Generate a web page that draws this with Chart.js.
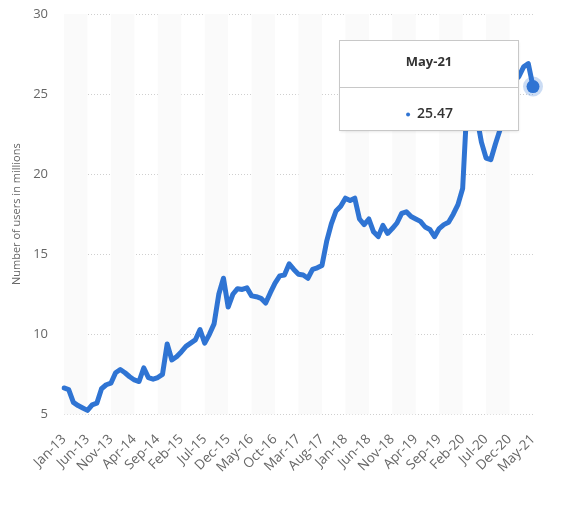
<!DOCTYPE html>
<html>
<head>
<meta charset="utf-8">
<script src="https://cdn.jsdelivr.net/npm/chart.js@4/dist/chart.umd.min.js"></script>
<style>
  body { margin: 0; background: #fff; }
  #wrap { width: 569px; height: 517px; }
</style>
</head>
<body>
<div id="wrap"><canvas id="myChart"></canvas></div>
<script>
// months Jan-13 .. May-21
const categories = [
    'Jan-13','Feb-13','Mar-13','Apr-13','May-13','Jun-13','Jul-13','Aug-13','Sep-13','Oct-13','Nov-13','Dec-13',
    'Jan-14','Feb-14','Mar-14','Apr-14','May-14','Jun-14','Jul-14','Aug-14','Sep-14','Oct-14','Nov-14','Dec-14',
    'Jan-15','Feb-15','Mar-15','Apr-15','May-15','Jun-15','Jul-15','Aug-15','Sep-15','Oct-15','Nov-15','Dec-15',
    'Jan-16','Feb-16','Mar-16','Apr-16','May-16','Jun-16','Jul-16','Aug-16','Sep-16','Oct-16','Nov-16','Dec-16',
    'Jan-17','Feb-17','Mar-17','Apr-17','May-17','Jun-17','Jul-17','Aug-17','Sep-17','Oct-17','Nov-17','Dec-17',
    'Jan-18','Feb-18','Mar-18','Apr-18','May-18','Jun-18','Jul-18','Aug-18','Sep-18','Oct-18','Nov-18','Dec-18',
    'Jan-19','Feb-19','Mar-19','Apr-19','May-19','Jun-19','Jul-19','Aug-19','Sep-19','Oct-19','Nov-19','Dec-19',
    'Jan-20','Feb-20','Mar-20','Apr-20','May-20','Jun-20','Jul-20','Aug-20','Sep-20','Oct-20','Nov-20','Dec-20',
    'Jan-21','Feb-21','Mar-21','Apr-21','May-21'
];

const users = [
    6.65, 6.55, 5.75, 5.55, 5.4, 5.25, 5.6, 5.7, 6.6, 6.85, 6.95, 7.6,
    7.8, 7.6, 7.35, 7.15, 7.05, 7.9, 7.3, 7.2, 7.3, 7.5, 9.4, 8.4,
    8.6, 8.9, 9.25, 9.45, 9.65, 10.3, 9.45, 10.0, 10.65, 12.5, 13.5, 11.7,
    12.5, 12.85, 12.8, 12.9, 12.4, 12.35, 12.25, 11.95, 12.6, 13.2, 13.65, 13.7,
    14.4, 14.05, 13.75, 13.7, 13.5, 14.05, 14.15, 14.3, 15.8, 16.9, 17.7, 18.0,
    18.5, 18.35, 18.5, 17.2, 16.85, 17.2, 16.4, 16.1, 16.8, 16.3, 16.6, 16.95,
    17.55, 17.65, 17.35, 17.2, 17.05, 16.7, 16.55, 16.1, 16.6, 16.85, 17.0, 17.5,
    18.1, 19.1, 24.8, 26.5, 23.6, 22.0, 21.0, 20.9, 21.9, 22.8, 24.2, 25.2,
    25.8, 26.1, 26.7, 26.9, 25.47
];

// shown every 5th month
const tickLabels = ['Jan-13','Jun-13','Nov-13','Apr-14','Sep-14','Feb-15','Jul-15','Dec-15','May-16','Oct-16',
    'Mar-17','Aug-17','Jan-18','Jun-18','Nov-18','Apr-19','Sep-19','Feb-20','Jul-20','Dec-20','May-21'];

const yTicks = [5, 10, 15, 20, 25, 30];

const lineColor = '#2f74d3';

// alternating light column bands between the labelled ticks
const bandsPlugin = {
    id: 'bands',
    beforeDatasetsDraw(chart) {
        const { ctx, chartArea, scales } = chart;
        ctx.save();
        ctx.fillStyle = '#fafafa';
        for (let t = 0; t < tickLabels.length - 1; t += 2) {
            const a = scales.x.getPixelForValue(categories.indexOf(tickLabels[t]));
            const b = scales.x.getPixelForValue(categories.indexOf(tickLabels[t + 1]));
            ctx.fillRect(a, chartArea.top, b - a, chartArea.bottom - chartArea.top);
        }
        ctx.restore();
    }
};

// highlighted last point + static tooltip box
const tipPlugin = {
    id: 'tip',
    afterDatasetsDraw(chart) {
        const { ctx } = chart;
        const meta = chart.getDatasetMeta(0);
        const last = users.length - 1;
        const pt = meta.data[last];
        ctx.save();
        ctx.beginPath();
        ctx.arc(pt.x, pt.y, 10, 0, Math.PI * 2);
        ctx.fillStyle = 'rgba(47,116,211,0.25)';
        ctx.fill();
        ctx.beginPath();
        ctx.arc(pt.x, pt.y, 6.5, 0, Math.PI * 2);
        ctx.fillStyle = lineColor;
        ctx.fill();

        const w = 179, h = 90;
        const bx = Math.round(pt.x - 15 - w) + 0.5;
        const by = Math.round(pt.y - 47) + 0.5;
        ctx.shadowColor = 'rgba(0,0,0,0.12)';
        ctx.shadowBlur = 3;
        ctx.shadowOffsetY = 1;
        ctx.fillStyle = '#fff';
        ctx.fillRect(bx, by, w, h);
        ctx.shadowColor = 'transparent';
        ctx.strokeStyle = '#c8c8c8';
        ctx.lineWidth = 1;
        ctx.strokeRect(bx, by, w, h);
        ctx.beginPath();
        ctx.moveTo(bx, by + 47);
        ctx.lineTo(bx + w, by + 47);
        ctx.stroke();

        ctx.fillStyle = '#333';
        ctx.textAlign = 'center';
        ctx.textBaseline = 'middle';
        ctx.font = 'bold 13px "Open Sans"';
        ctx.fillText(categories[last], bx + w / 2, by + 22);

        const val = users[last].toFixed(2);
        ctx.font = '600 14px "Open Sans"';
        ctx.fillText(val, bx + w / 2 + 6, by + 74);
        const tw = ctx.measureText(val).width;
        ctx.beginPath();
        ctx.arc(bx + w / 2 + 6 - tw / 2 - 9, by + 74, 2, 0, Math.PI * 2);
        ctx.fillStyle = lineColor;
        ctx.fill();
        ctx.restore();
    }
};

const config = {
    type: 'line',
    data: {
        labels: categories,
        datasets: [{
            data: users,
            borderColor: lineColor,
            borderWidth: 5,
            pointRadius: 0,
            tension: 0,
            borderJoinStyle: 'round',
            borderCapStyle: 'round'
        }]
    },
    options: {
        responsive: true,
        maintainAspectRatio: false,
        animation: false,
        layout: { padding: { left: 10, right: 36, top: 14, bottom: 32.5 } },
        plugins: { legend: { display: false }, tooltip: { enabled: false } },
        scales: {
            x: {
                grid: { display: false },
                border: { display: false },
                afterFit: (scale) => { scale.paddingLeft = 0; scale.paddingRight = 0; },
                ticks: {
                    autoSkip: false,
                    maxRotation: 45,
                    minRotation: 45,
                    color: '#666',
                    font: { family: 'Open Sans', size: 13.5 },
                    padding: 9,
                    callback: (v, i) => tickLabels.includes(categories[i]) ? categories[i] : null
                }
            },
            y: {
                min: 5,
                max: 30,
                afterBuildTicks: (axis) => { axis.ticks = yTicks.map(v => ({ value: v })); },
                afterFit: (scale) => { scale.width = 54; scale.paddingTop = 0; scale.paddingBottom = 0; },
                grid: { color: '#cfcfcf', drawTicks: false },
                border: { display: false, dash: [1, 2] },
                ticks: {
                    color: '#666',
                    font: { family: 'Open Sans', size: 13 },
                    padding: 16
                },
                title: {
                    display: true,
                    text: 'Number of users in millions',
                    color: '#666',
                    font: { family: 'Open Sans', size: 11 },
                    padding: { top: 0, bottom: 9 }
                }
            }
        }
    },
    plugins: [bandsPlugin, tipPlugin]
};

const myChart = new Chart(document.getElementById('myChart'), config);
</script>
</body>
</html>
